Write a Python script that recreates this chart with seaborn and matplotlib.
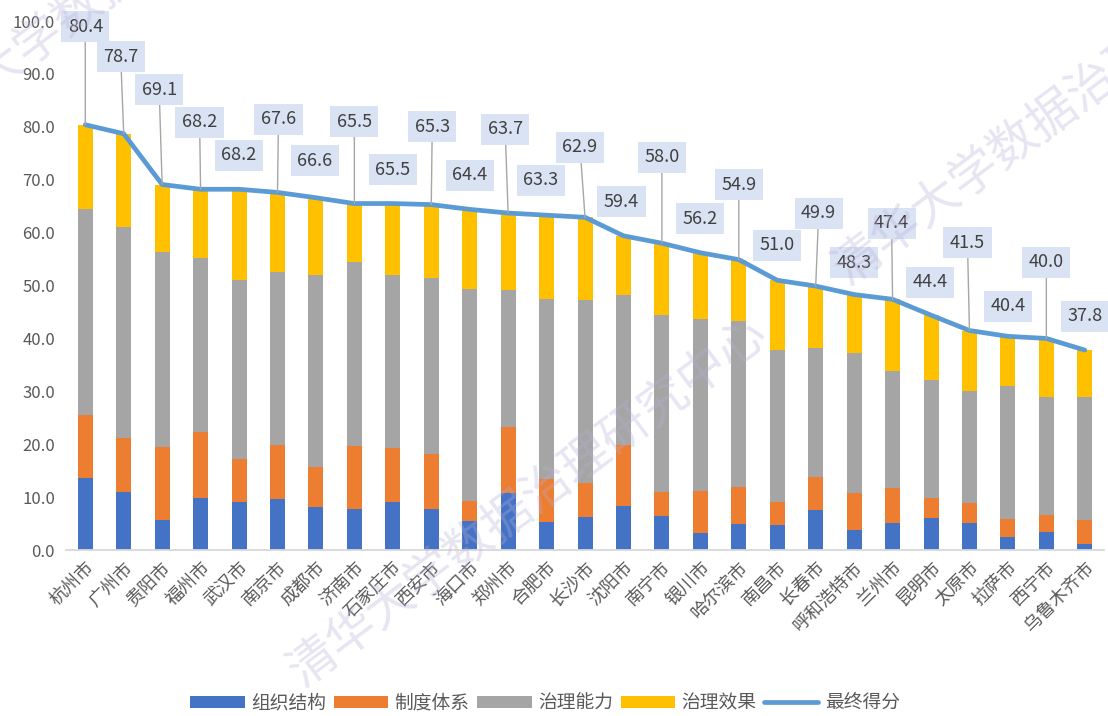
import matplotlib
matplotlib.use('Agg')
import numpy as np
import pandas as pd
import matplotlib.pyplot as plt
import seaborn as sns
from matplotlib.lines import Line2D
from matplotlib.patches import Patch

cities = ['杭州市', '广州市', '贵阳市', '福州市', '武汉市', '南京市', '成都市', '济南市', '石家庄市',
          '西安市', '海口市', '郑州市', '合肥市', '长沙市', '沈阳市', '南宁市', '银川市', '哈尔滨市',
          '南昌市', '长春市', '呼和浩特市', '兰州市', '昆明市', '太原市', '拉萨市', '西宁市', '乌鲁木齐市']

org = [13.6, 11.0, 5.6, 9.9, 9.0, 9.7, 8.1, 7.8, 9.1, 7.7, 5.5, 10.8, 5.3, 6.2,
       8.4, 6.4, 3.3, 5.0, 4.7, 7.6, 3.8, 5.2, 6.0, 5.1, 2.5, 3.4, 1.2]
system = [11.9, 10.1, 13.9, 12.4, 8.2, 10.1, 7.6, 11.9, 10.1, 10.5, 3.8, 12.4, 8.2, 6.4,
          11.5, 4.5, 7.8, 7.0, 4.4, 6.3, 7.0, 6.5, 3.8, 3.8, 3.3, 3.2, 4.4]
capacity = [39.0, 40.0, 36.9, 32.9, 33.9, 32.7, 36.2, 34.8, 32.8, 33.2, 40.1, 26.0, 33.9, 34.6,
            28.4, 33.5, 32.6, 31.3, 28.7, 24.3, 26.5, 22.2, 22.3, 21.2, 25.3, 22.3, 23.4]
final = [80.4, 78.7, 69.1, 68.2, 68.2, 67.6, 66.6, 65.5, 65.5, 65.3, 64.4, 63.7, 63.3, 62.9,
         59.4, 58.0, 56.2, 54.9, 51.0, 49.9, 48.3, 47.4, 44.4, 41.5, 40.4, 40.0, 37.8]

series_names = ['组织结构', '制度体系', '治理能力', '治理效果', '最终得分']
colors = ['#4472C4', '#ED7D31', '#A5A5A5', '#FFC000']
line_color = '#5B9BD5'

# label placement (pixels above the point, small horizontal nudge)
label_rise = [98, 77, 95, 67, 34, 73, 37, 82, 34, 78, 34, 84, 35, 70, 34, 86, 34, 75, 35,
              73, 32, 76, 33, 88, 30, 76, 34]
label_dx = [0, -3, -3, -1, 0, 1, -1, 0, 0, 1, 0, -3, -6, -5, -2, 0, 0, 0, 0, 3, 0, -1, -1,
            -2, 0, 0, 0]

df = pd.DataFrame({'city': cities, 'org': org, 'system': system,
                   'capacity': capacity, 'final': final})
df['pos'] = np.arange(len(df))
df['c1'] = df['org']
df['c2'] = df['c1'] + df['system']
df['c3'] = df['c2'] + df['capacity']

sns.set_theme(style='white')
plt.rcParams['font.family'] = ['Noto Sans CJK SC', 'DejaVu Sans']

fig = plt.figure(figsize=(11.08, 7.16), dpi=100)
ax = fig.add_axes([0.0596, 0.2318, 0.9368, 0.7388])

# stacked look: draw cumulative heights tallest first
for col, c in zip(['final', 'c3', 'c2', 'c1'], colors[::-1]):
    sns.barplot(data=df, x='city', y=col, color=c, width=0.39, saturation=1,
                ax=ax, linewidth=0, zorder=2)

sns.lineplot(data=df, x='pos', y='final', color=line_color, linewidth=3.4, ax=ax,
             zorder=4, sort=False)
for ln in ax.lines:
    ln.set_solid_joinstyle('round')
    ln.set_solid_capstyle('round')

for i, v in enumerate(final):
    rise = label_rise[i]
    arrow = dict(arrowstyle='-', color='#A6A6A6', lw=1, shrinkA=0, shrinkB=0) if rise > 50 else None
    ax.annotate(f'{v:.1f}', xy=(i, v), xytext=(label_dx[i], rise), textcoords='offset pixels',
                ha='center', va='center', fontsize=13, color='#404040', zorder=5,
                bbox=dict(boxstyle='square,pad=0.36', fc='#DAE3F3', ec='none'),
                arrowprops=arrow)

ax.set_xlim(-0.5, len(cities) - 0.5)
ax.set_ylim(0, 100)
ax.set_yticks(np.arange(0, 101, 10))
ax.set_yticklabels([f'{t:.1f}' for t in np.arange(0, 101, 10)])
ax.set_xticks(np.arange(len(cities)))
ax.set_xticklabels(cities, rotation=45, ha='right', rotation_mode='anchor')
ax.tick_params(axis='x', labelsize=13, colors='#595959', length=0, pad=6)
ax.tick_params(axis='y', labelsize=12, colors='#595959', length=0, pad=8)
ax.set_xlabel('')
ax.set_ylabel('')
for s in ['top', 'right', 'left']:
    ax.spines[s].set_visible(False)
ax.spines['bottom'].set_color('#D9D9D9')
ax.spines['bottom'].set_linewidth(1.3)
ax.grid(False)

handles = [Patch(facecolor=c, edgecolor='none') for c in colors]
handles.append(Line2D([0], [0], color=line_color, lw=3.4, solid_capstyle='round'))
fig.legend(handles, series_names, loc='center', bbox_to_anchor=(0.492, 0.018), ncol=5,
           frameon=False, fontsize=13.5, handlelength=2.9, handleheight=0.6,
           handletextpad=0.35, columnspacing=0.4, labelcolor='#595959')

# watermark
wm = '清华大学数据治理研究中心'
for xf, yf in [(0.4765, 0.2975), (0.969, 0.859), (0.124, 1.045)]:
    fig.text(xf, yf, wm, rotation=36.7, rotation_mode='anchor', ha='center', va='center',
             fontsize=35, color='#B8AED8', alpha=0.32, zorder=10)

fig.savefig('out.png', dpi=100)
